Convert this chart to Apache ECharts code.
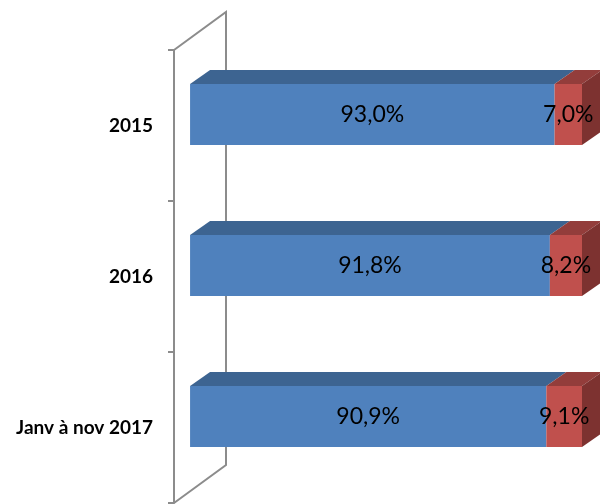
<!DOCTYPE html>
<html>
<head>
<meta charset="utf-8">
<script src="https://cdn.jsdelivr.net/npm/echarts@6/dist/echarts.min.js"></script>
<style>html,body{margin:0;padding:0;background:#fff}#c{width:600px;height:504px}</style>
</head>
<body>
<div id="c"></div>
<script>
const categories = ['2015', '2016', 'Janv à nov 2017'];
const shareBlue = [93.0, 91.8, 90.9];
const shareRed = [7.0, 8.2, 9.1];

const GRID = {left: 174, right: 18, top: 50, bottom: 1};
const WALL_GAP = 4.1; // value-axis room between the front wall line and the start of the bars
const DEPTH_X = 20, DEPTH_Y = 14;
const WALL_X = 52, WALL_Y = 38;

function fmt(v) { return v.toFixed(1).replace('.', ',') + '%'; }

function makeData(starts, vals) {
  return vals.map((v, i) => [i, starts[i], starts[i] + v, v]);
}

function renderer(front, top, side, drawSide) {
  return function (params, api) {
    const cat = api.value(0), s = api.value(1), e = api.value(2), v = api.value(3);
    const p0 = api.coord([s, cat]);
    const p1 = api.coord([e, cat]);
    const band = api.size([0, 1])[1];
    const h = band * 0.404;
    const cy = p0[1] - band * 0.073;
    const yt = cy - h / 2, yb = cy + h / 2;
    const x0 = p0[0], x1 = p1[0];
    const children = [];
    children.push({type: 'polygon', shape: {points: [[x0, yt], [x0 + DEPTH_X, yt - DEPTH_Y], [x1 + DEPTH_X, yt - DEPTH_Y], [x1, yt]]}, style: {fill: top}});
    if (drawSide) {
      children.push({type: 'polygon', shape: {points: [[x1, yt], [x1 + DEPTH_X, yt - DEPTH_Y], [x1 + DEPTH_X, yb - DEPTH_Y], [x1, yb]]}, style: {fill: side}});
    }
    children.push({type: 'rect', shape: {x: x0, y: yt, width: x1 - x0, height: h}, style: {fill: front}});
    children.push({type: 'text', style: {text: fmt(v), x: (x0 + x1) / 2, y: cy, align: 'center', verticalAlign: 'middle', fill: '#000', font: '23px Lato, "Noto Sans", sans-serif'}});
    return {type: 'group', children: children};
  };
}

const chart = echarts.init(document.getElementById('c'), null, {renderer: 'canvas'});
const redStarts = shareBlue.slice();
const blueStarts = shareBlue.map(() => 0);

const fx = GRID.left;
const ft = GRID.top;
const fb = 504 - GRID.bottom;

chart.setOption({
  animation: false,
  backgroundColor: '#fff',
  grid: GRID,
  xAxis: {type: 'value', min: -WALL_GAP, max: 100, show: false},
  yAxis: {
    type: 'category', data: categories, inverse: true,
    axisLine: {show: true, onZero: false, lineStyle: {color: '#8c8c8c', width: 2}},
    axisTick: {show: true, length: 6, lineStyle: {color: '#8c8c8c', width: 2}},
    axisLabel: {margin: 21, color: '#000', fontWeight: 'bold', fontSize: 19, fontFamily: 'Lato, "Noto Sans", sans-serif'}
  },
  graphic: [{
    type: 'polyline', z: 1,
    shape: {points: [[fx, ft], [fx + WALL_X, ft - WALL_Y], [fx + WALL_X, fb - WALL_Y], [fx, fb]]},
    style: {stroke: '#8c8c8c', lineWidth: 2, fill: null}
  }],
  series: [
    {type: 'custom', z: 5, renderItem: renderer('#4F81BD', '#3D6491', '#3D6491', false), data: makeData(blueStarts, shareBlue), encode: {x: [1, 2], y: 0}},
    {type: 'custom', z: 5, renderItem: renderer('#C0504D', '#933D3B', '#7D3230', true), data: makeData(redStarts, shareRed), encode: {x: [1, 2], y: 0}}
  ]
});
</script>
</body>
</html>
